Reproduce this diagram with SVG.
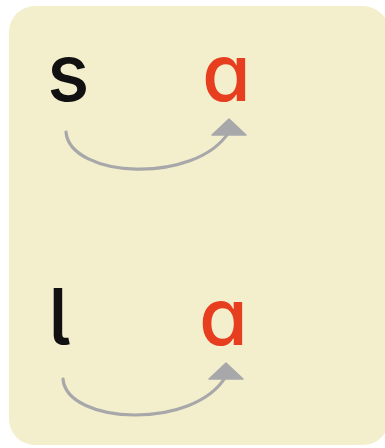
<svg xmlns="http://www.w3.org/2000/svg" width="385" height="448" viewBox="0 0 385 448">
<style>
.g{font-family:Inter,"Noto Sans",sans-serif;font-weight:500;font-size:79px;font-feature-settings:"cv11","cv05";}
.k{fill:#111111;}
.r{fill:#e63e1e;}
.arr{fill:none;stroke:#a8a8aa;stroke-width:3.2;stroke-linecap:round;}
</style>
<defs>
<marker id="head" viewBox="0 0 38 18" refX="19" refY="14" markerWidth="38" markerHeight="18" markerUnits="userSpaceOnUse" orient="0">
<path d="M19,1 L36,17 L2,17 Z" fill="#a8a8aa" stroke="#a8a8aa" stroke-width="1.5" stroke-linejoin="round"/>
</marker>
</defs>
<rect id="panel" x="9" y="6" width="380" height="439" rx="26" fill="#f3efcd"/>
<g id="node-s"><text class="g k" x="47" y="101">s</text></g>
<g id="node-a1"><text class="g r" x="202" y="101">a</text></g>
<g id="node-l"><text class="g k" x="48" y="345" font-size="80">l</text></g>
<g id="node-a2"><text class="g r" x="199" y="345">a</text></g>
<g id="connectors">
<path class="arr" d="M66,132 C70,178 195,185 229,132" marker-end="url(#head)"/>
<path class="arr" d="M63,379 C67,425 195,430 226,376" marker-end="url(#head)"/>
</g>
</svg>
